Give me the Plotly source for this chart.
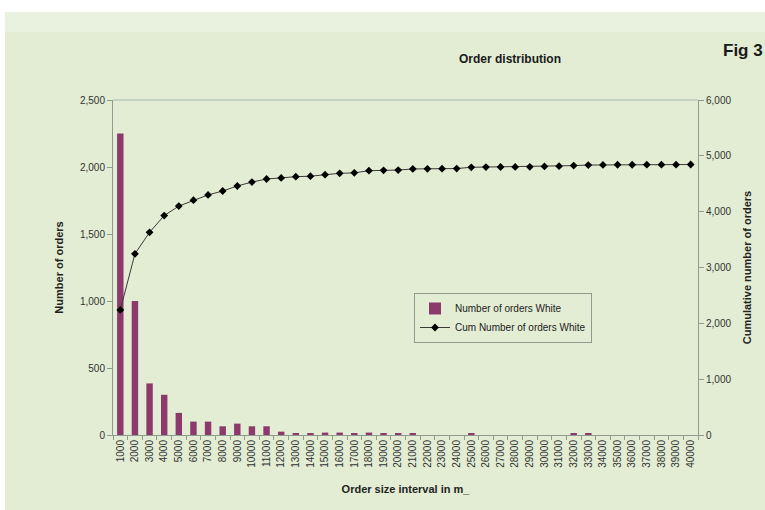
import plotly.graph_objects as go

# Order size intervals (m) used as category labels
intervals = [str(v) for v in range(1000, 41000, 1000)]

# Number of orders falling in each interval
orders = [2250, 1000, 385, 300, 165, 100, 100, 65, 85, 65,
          65, 25, 10, 10, 18, 18, 10, 18, 10, 10,
          10, 0, 0, 0, 12, 0, 0, 0, 0, 0,
          0, 12, 12, 0, 0, 0, 0, 0, 0, 0]

# Cumulative number of orders
cum_orders = [2240, 3245, 3630, 3930, 4100, 4205, 4300, 4370, 4460, 4530,
              4585, 4605, 4627, 4635, 4663, 4687, 4695, 4734, 4740, 4745,
              4765, 4768, 4770, 4772, 4795, 4798, 4800, 4802, 4804, 4810,
              4815, 4825, 4835, 4838, 4840, 4840, 4842, 4842, 4842, 4845]

FONT = "Liberation Sans Narrow, Arial Narrow, Liberation Sans, Arial, sans-serif"
BG = "#e2edd3"
BAND = "#e8f2de"
AXIS = "#8d9c8d"
BAR = "#8c3a6c"

# plot area in pixels
W, H = 765, 510
L, R, T, B = 113, 698, 100, 435
pw, ph = R - L, B - T


def px(x):
    return (x - L) / pw


def py(y):
    return (B - y) / ph


fig = go.Figure()

fig.add_trace(go.Bar(
    x=intervals, y=orders, name="Number of orders White",
    marker=dict(color=BAR, line=dict(width=0)),
    yaxis="y",
))

fig.add_trace(go.Scatter(
    x=intervals, y=cum_orders, name="Cum Number of orders White",
    mode="lines+markers",
    line=dict(color="#3a3a3a", width=1),
    marker=dict(symbol="diamond", size=6, color="#000000"),
    yaxis="y2",
))

shapes = [
    # green page background with a lighter band at the top
    dict(type="rect", xref="paper", yref="paper", layer="below",
         x0=px(5), x1=px(W + 5), y0=py(32), y1=py(W), fillcolor=BG,
         line=dict(width=0)),
    dict(type="rect", xref="paper", yref="paper", layer="below",
         x0=px(5), x1=px(W + 5), y0=py(32), y1=py(12), fillcolor=BAND,
         line=dict(width=0)),
    # top border line of the plot area
    dict(type="line", xref="paper", yref="paper", layer="below",
         x0=0, x1=1, y0=1, y1=1, line=dict(color="#a9b9b6", width=1)),
]

annotations = [
    dict(text="<b>Order distribution</b>", xref="paper", yref="paper",
         x=px(510), y=py(59), xanchor="center", yanchor="middle",
         showarrow=False, font=dict(family=FONT, size=12, color="#1a1a1a")),
    dict(text="<b>Fig 3</b>", xref="paper", yref="paper",
         x=px(765), y=py(51), xanchor="right", yanchor="middle",
         showarrow=False, font=dict(family=FONT, size=17, color="#1a1a1a")),
]

fig.update_layout(
    width=W, height=H,
    margin=dict(l=L, r=W - R, t=T, b=H - B, pad=0, autoexpand=False),
    paper_bgcolor="#ffffff",
    plot_bgcolor="rgba(0,0,0,0)",
    font=dict(family=FONT, size=10, color="#333333"),
    bargap=0.56,
    showlegend=True,
    legend=dict(
        x=px(414), y=py(293), xanchor="left", yanchor="top",
        bgcolor=BG, bordercolor=AXIS, borderwidth=1,
        font=dict(family=FONT, size=10, color="#222222"),
        tracegroupgap=0, itemwidth=30,
    ),
    shapes=shapes,
    annotations=annotations,
    xaxis=dict(
        type="category",
        categoryorder="array", categoryarray=intervals,
        range=[-0.5, len(intervals) - 0.5], autorange=False,
        tickson="boundaries",
        ticks="outside", ticklen=4, tickcolor=AXIS,
        showline=True, linecolor=AXIS, linewidth=1,
        showgrid=False, zeroline=False,
        tickangle=-90, automargin=False,
        tickfont=dict(family=FONT, size=10, color="#333333"),
        title=dict(text="<b>Order size interval in m_</b>",
                   font=dict(family=FONT, size=11, color="#222222"),
                   standoff=18),
    ),
    yaxis=dict(
        range=[0, 2500], dtick=500, tickformat=",", autorange=False,
        ticks="outside", ticklen=5, tickcolor=AXIS,
        showline=True, linecolor=AXIS, linewidth=1,
        showgrid=False, zeroline=False, automargin=False,
        tickfont=dict(family=FONT, size=10, color="#333333"),
        title=dict(text="<b>Number of orders</b>",
                   font=dict(family=FONT, size=11, color="#222222"),
                   standoff=14),
    ),
    yaxis2=dict(
        overlaying="y", side="right",
        range=[0, 6000], dtick=1000, tickformat=",", autorange=False,
        ticks="outside", ticklen=5, tickcolor=AXIS,
        showline=True, linecolor=AXIS, linewidth=1,
        showgrid=False, zeroline=False, automargin=False,
        tickfont=dict(family=FONT, size=10, color="#333333"),
        title=dict(text="<b>Cumulative number of orders</b>",
                   font=dict(family=FONT, size=11, color="#222222"),
                   standoff=12),
    ),
)

fig.write_html("out.html")
